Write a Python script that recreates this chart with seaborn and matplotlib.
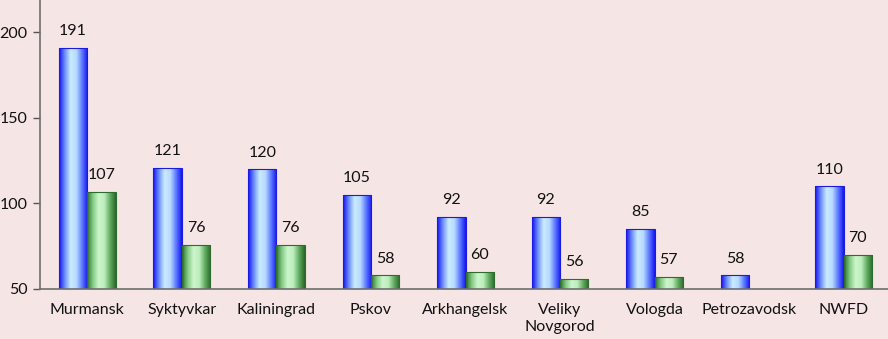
import numpy as np
import pandas as pd
import matplotlib
matplotlib.use("Agg")
import matplotlib.pyplot as plt
from matplotlib.colors import LinearSegmentedColormap
import seaborn as sns

cities = ["Murmansk", "Syktyvkar", "Kaliningrad", "Pskov", "Arkhangelsk",
          "Veliky\nNovgorod", "Vologda", "Petrozavodsk", "NWFD"]
series_a = [191, 121, 120, 105, 92, 92, 85, 58, 110]
series_b = [107, 76, 76, 58, 60, 56, 57, 50, 70]
labels_b = ["107", "76", "76", "58", "60", "56", "57", "", "70"]

BG = "#F6E5E5"
TXT = "#111111"

sns.set_theme(style="white")
plt.rcParams['font.family'] = ['Lato', 'DejaVu Sans']

df = pd.DataFrame({
    "city": cities * 2,
    "value": series_a + series_b,
    "series": ["a"] * len(cities) + ["b"] * len(cities),
})

fig = plt.figure(figsize=(8.88, 3.39), dpi=100, facecolor=BG)
ax = fig.add_axes([40 / 888, 50 / 339, 851 / 888, 289 / 339])
ax.set_facecolor(BG)

sns.barplot(data=df, x="city", y="value", hue="series", ax=ax,
            palette={"a": "#3030FF", "b": "#3A8A3A"}, width=0.6,
            gap=0, legend=False, errorbar=None, saturation=1)

blue_cmap = LinearSegmentedColormap.from_list(
    "bl", ["#1414F0", "#6F90FF", "#C9ECFF", "#B8DAFF", "#5F7CFF", "#1818F0"])
green_cmap = LinearSegmentedColormap.from_list(
    "gr", ["#2A722A", "#86CC86", "#CCF6CC", "#BDEDBD", "#62AD62", "#2A682A"])
grad = np.linspace(0, 1, 64).reshape(1, -1)

ymin, ymax = 50, 219
for i, bar in enumerate(ax.patches):
    x0, w = bar.get_x(), bar.get_width()
    h = bar.get_height()
    cmap = blue_cmap if i < len(cities) else green_cmap
    edge = "#1A1AE0" if i < len(cities) else "#2E6B2E"
    bar.set_facecolor("none")
    bar.set_edgecolor(edge)
    bar.set_linewidth(0.8)
    im = ax.imshow(grad, cmap=cmap, aspect="auto",
                   extent=(x0, x0 + w, ymin, max(h, ymin)), zorder=bar.get_zorder() - 0.1)
    im.set_clip_path(bar)

for i in range(len(cities)):
    pa = ax.patches[i]
    pb = ax.patches[i + len(cities)]
    ax.annotate(str(series_a[i]), (pa.get_x() + pa.get_width() / 2, series_a[i]),
                xytext=(0, 7), textcoords="offset points", ha="center", va="bottom",
                fontsize=11.5, color=TXT)
    if labels_b[i]:
        ax.annotate(labels_b[i], (pb.get_x() + pb.get_width() / 2, series_b[i]),
                    xytext=(0, 7), textcoords="offset points", ha="center", va="bottom",
                    fontsize=11.5, color=TXT)

ax.set_xlim(-0.5, len(cities) - 0.5)
ax.set_ylim(ymin, ymax)
ax.set_yticks([50, 100, 150, 200])
ax.set_xticks(range(len(cities)))
ax.set_xticklabels(cities, fontsize=11.5, color=TXT, linespacing=1.25)
ax.set_xticks(np.arange(-0.5, len(cities), 1.0), minor=True)
ax.tick_params(axis="x", which="major", length=0, pad=10)
ax.tick_params(axis="x", which="minor", length=5, width=1, color="#555555", direction="out")
ax.tick_params(axis="y", length=5, width=1, color="#555555", direction="out",
               labelsize=11.5, labelcolor=TXT, left=True, pad=4)
ax.set_xlabel("")
ax.set_ylabel("")

for side in ["top", "right"]:
    ax.spines[side].set_visible(False)
for side in ["left", "bottom"]:
    ax.spines[side].set_color("#6E6E6E")
    ax.spines[side].set_linewidth(1.2)

fig.savefig("out.png", dpi=100, facecolor=BG)
